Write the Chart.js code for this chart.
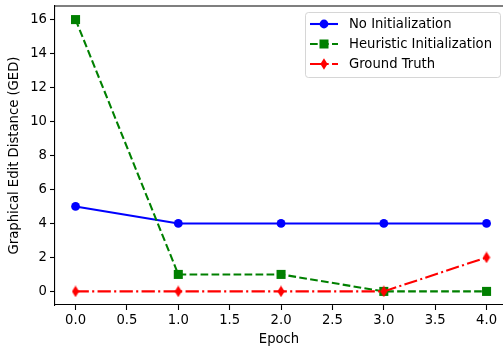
<!DOCTYPE html>
<html>
<head>
<meta charset="utf-8">
<script src="https://cdn.jsdelivr.net/npm/chart.js@4"></script>
<style>
  body { margin: 0; background: #fff; overflow: hidden; }
  canvas { display: block; }
</style>
</head>
<body>
<canvas id="chart" width="503" height="347" style="width:503px;height:347px"></canvas>
<script>
// Données
const epochs = [0, 1, 2, 3, 4];
const noInit = [5, 4, 4, 4, 4];
const heuristicInit = [16, 1, 1, 0, 0];
const groundTruth = [0, 0, 0, 0, 2];
const seriesNames = ['No Initialization', 'Heuristic Initialization', 'Ground Truth'];

const FONT = 'DejaVu Sans';
const FS = 13.2;

// Losange fin (marqueur 'd' de matplotlib)
function thinDiamond(color) {
  const c = document.createElement('canvas');
  c.width = 8; c.height = 12;
  const g = c.getContext('2d');
  g.fillStyle = color;
  g.beginPath();
  g.moveTo(4, 0.3); g.lineTo(7.6, 6); g.lineTo(4, 11.7); g.lineTo(0.4, 6);
  g.closePath(); g.fill();
  return c;
}
const diamond = thinDiamond('#ff0000');

const toXY = arr => arr.map((v, i) => ({ x: epochs[i], y: v }));

// Légende façon matplotlib
const legendPlugin = {
  id: 'mplLegend',
  afterDraw(chart) {
    const ctx = chart.ctx;
    ctx.save();
    const bx = 305.5, by = 12.5, bw = 195, bh = 65;
    ctx.beginPath();
    ctx.roundRect(bx, by, bw, bh, 3);
    ctx.fillStyle = 'rgba(255,255,255,0.8)';
    ctx.fill();
    ctx.strokeStyle = 'rgba(204,204,204,0.8)';
    ctx.lineWidth = 1;
    ctx.stroke();

    const items = [
      { color: '#0000ff', dash: [], marker: 'circle' },
      { color: '#008000', dash: [7.7, 3.3], marker: 'square' },
      { color: '#ff0000', dash: [13.3, 3.3, 2.1, 3.3], marker: 'diamond' }
    ];
    items.forEach((it, i) => {
      const y = 24 + i * 20;
      ctx.strokeStyle = it.color;
      ctx.lineWidth = 2.08;
      ctx.setLineDash(it.dash);
      ctx.beginPath();
      ctx.moveTo(310, y); ctx.lineTo(338, y);
      ctx.stroke();
      ctx.setLineDash([]);
      ctx.fillStyle = it.color;
      const mx = 324;
      if (it.marker === 'circle') {
        ctx.beginPath(); ctx.arc(mx, y, 4.4, 0, Math.PI * 2); ctx.fill();
      } else if (it.marker === 'square') {
        ctx.fillRect(mx - 4.5, y - 4.5, 9, 9);
      } else {
        ctx.drawImage(diamond, mx - 4, y - 6);
      }
      ctx.fillStyle = '#000';
      ctx.font = FS + 'px "' + FONT + '"';
      ctx.textBaseline = 'middle';
      ctx.textAlign = 'left';
      ctx.fillText(seriesNames[i], 349, y + 0.5);
    });
    ctx.restore();
  }
};

// Cadre haut (le bord droit est hors champ dans l'original)
const framePlugin = {
  id: 'frame',
  afterDatasetsDraw(chart) {
    const { ctx, chartArea: a } = chart;
    ctx.save();
    ctx.strokeStyle = '#000';
    ctx.lineWidth = 1.1;
    ctx.beginPath();
    ctx.moveTo(a.left, a.top); ctx.lineTo(a.right + 2, a.top);
    ctx.stroke();
    ctx.restore();
  }
};

Chart.defaults.font.family = FONT;
Chart.defaults.font.size = FS;
Chart.defaults.color = '#000';

new Chart(document.getElementById('chart'), {
  type: 'line',
  data: {
    datasets: [
      {
        label: seriesNames[0], data: toXY(noInit),
        borderColor: '#0000ff', backgroundColor: '#0000ff', borderWidth: 2.08,
        pointStyle: 'circle', pointRadius: 4.4, pointBorderWidth: 0,
        pointBackgroundColor: '#0000ff', order: 2
      },
      {
        label: seriesNames[1], data: toXY(heuristicInit),
        borderColor: '#008000', backgroundColor: '#008000', borderWidth: 2.08,
        borderDash: [7.7, 3.3],
        pointStyle: 'rect', pointRadius: 6.4, pointBorderWidth: 0,
        pointBackgroundColor: '#008000', order: 1
      },
      {
        label: seriesNames[2], data: toXY(groundTruth),
        borderColor: '#ff0000', backgroundColor: '#ff0000', borderWidth: 2.08,
        borderDash: [13.3, 3.3, 2.1, 3.3],
        pointStyle: diamond, pointRadius: 5, pointBorderWidth: 0,
        order: 0
      }
    ]
  },
  options: {
    responsive: false,
    animation: false,
    devicePixelRatio: 1,
    layout: { autoPadding: false, padding: { top: 6, right: 0, left: 0, bottom: 0 } },
    plugins: { legend: { display: false }, tooltip: { enabled: false } },
    elements: { line: { tension: 0, fill: false } },
    scales: {
      x: {
        type: 'linear', min: -0.2, max: 4.16,
        afterFit: s => { s.height = 42; s.paddingLeft = 0; s.paddingRight = 0; },
        ticks: { stepSize: 0.5, includeBounds: false, padding: 3, maxRotation: 0,
          callback: v => v.toFixed(1) },
        grid: { display: true, drawOnChartArea: false, drawTicks: true, tickLength: 5,
          color: '#000', tickWidth: 1.1 },
        border: { display: true, color: '#000', width: 1.1 },
        title: { display: true, text: 'Epoch', padding: { top: 0, bottom: 0 } }
      },
      y: {
        type: 'linear', min: -0.8, max: 16.8,
        afterFit: s => { s.width = 55; s.paddingTop = 0; s.paddingBottom = 0; },
        ticks: { stepSize: 2, includeBounds: false, padding: 3,
          callback: v => String(v) },
        grid: { display: true, drawOnChartArea: false, drawTicks: true, tickLength: 5,
          color: '#000', tickWidth: 1.1 },
        border: { display: true, color: '#000', width: 1.1 },
        title: { display: true, text: 'Graphical Edit Distance (GED)', padding: { top: 7, bottom: 0 } }
      }
    }
  },
  plugins: [framePlugin, legendPlugin]
});
</script>
</body>
</html>
